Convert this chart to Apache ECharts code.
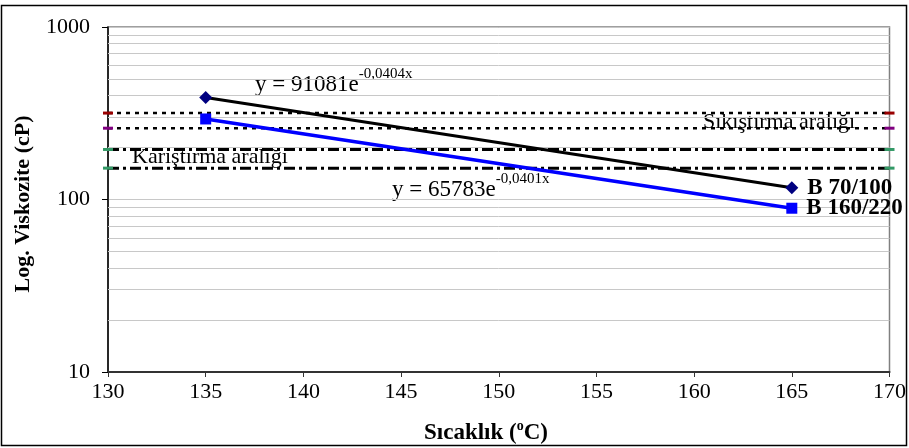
<!DOCTYPE html>
<html><head><meta charset="utf-8">
<script src="https://cdn.jsdelivr.net/npm/echarts@6/dist/echarts.min.js"></script>
<style>html,body{margin:0;padding:0;background:#fff}#c{width:909px;height:448px}</style>
</head><body><div id="c"></div>
<script>
// ---- data ----
const xTicks = [130, 135, 140, 145, 150, 155, 160, 165, 170];
const yTicks = [10, 100, 1000];
const temps = [135, 165];
const seriesNames = ['B 70/100', 'B 160/220'];
const b70100 = [390, 117];
const b160220 = [293, 89];
const compactionRange = [317, 259];   // Sıkıştırma aralığı (upper, lower)
const mixingRange = [195, 152];       // Karıştırma aralığı (upper, lower)
const rangeMarkColors = ['#990000', '#800080', '#339966', '#339966'];
const minorGrid = [20, 30, 40, 50, 60, 70, 80, 90, 200, 300, 400, 500, 600, 700, 800, 900];

const FONT = "'Liberation Serif','Times New Roman',serif";
const chart = echarts.init(document.getElementById('c'), null, {renderer: 'canvas'});

function endLabelData(xs, ys, name) {
  return xs.map((x, i) => {
    const d = {value: [x, ys[i]]};
    if (i === xs.length - 1) {
      d.label = {show: true, position: 'right', distance: 9, formatter: name,
        fontFamily: FONT, fontWeight: 'bold', fontSize: 23, color: '#000'};
    }
    return d;
  });
}

const xMin = xTicks[0], xMax = xTicks[xTicks.length - 1];
const rangeVals = compactionRange.concat(mixingRange);
const rangeSeries = rangeVals.map((v, i) => ({
  type: 'line',
  data: [[xMin, v], [xMax, v]],
  symbol: 'rect',
  symbolSize: [10, 3],
  clip: false,
  silent: true,
  z: 3,
  itemStyle: {color: rangeMarkColors[i]},
  lineStyle: i < 2
    ? {color: '#000', width: 2.5, type: [4, 5]}
    : {color: '#000', width: 3, type: [11, 4, 3, 4]}
}));

const option = {
  animation: false,
  backgroundColor: '#fff',
  grid: {left: 108, right: 17, top: 27, bottom: 76, show: true, borderColor: '#808080', borderWidth: 1.5},
  xAxis: {
    type: 'value', min: xMin, max: xMax, interval: 5,
    axisLine: {show: true, lineStyle: {color: '#333', width: 2}},
    axisTick: {show: true, inside: false, length: 5, lineStyle: {color: '#333', width: 1}},
    axisLabel: {fontFamily: FONT, fontSize: 22, color: '#000', margin: 9},
    splitLine: {show: false}
  },
  yAxis: {
    type: 'log', logBase: 10, min: yTicks[0], max: yTicks[yTicks.length - 1],
    axisLine: {show: true, lineStyle: {color: '#000', width: 1.5}},
    axisTick: {show: true, inside: false, length: 6, lineStyle: {color: '#000', width: 1}},
    axisLabel: {fontFamily: FONT, fontSize: 22, color: '#000', margin: 18, formatter: v => String(v)},
    splitLine: {show: true, lineStyle: {color: '#c8c8c8', width: 1}},
    minorTick: {show: false}
  },
  series: [
    {
      type: 'line', data: [], silent: true, z: 1,
      markLine: {silent: true, symbol: 'none', animation: false, label: {show: false},
        lineStyle: {color: '#c8c8c8', type: 'solid', width: 1},
        emphasis: {disabled: true},
        data: minorGrid.map(v => ({yAxis: v}))}
    },
    ...rangeSeries,
    {
      name: seriesNames[0], type: 'line', z: 5,
      data: endLabelData(temps, b70100, seriesNames[0]),
      symbol: 'diamond', symbolSize: 13,
      itemStyle: {color: '#000080'},
      lineStyle: {color: '#000', width: 3}
    },
    {
      name: seriesNames[1], type: 'line', z: 5,
      data: endLabelData(temps, b160220, seriesNames[1]),
      symbol: 'rect', symbolSize: 11,
      itemStyle: {color: '#0000ff'},
      lineStyle: {color: '#0000ff', width: 3.5}
    }
  ],
  graphic: [
    {type: 'rect', shape: {x: 1.5, y: 5.5, width: 905, height: 440}, style: {fill: 'none', stroke: '#000', lineWidth: 1.5}, z: 10, silent: true},
    {type: 'text', x: 23, y: 204, rotation: Math.PI / 2,
      style: {text: 'Log. Viskozite (cP)', font: "bold 22px 'Liberation Serif', serif", fill: '#000', align: 'center', verticalAlign: 'middle'}},
    {type: 'text', x: 486, y: 433,
      style: {text: '{t|Sıcaklık (}{s|o}{t|C)}', align: 'center', verticalAlign: 'middle',
        rich: {t: {fontFamily: FONT, fontWeight: 'bold', fontSize: 23, lineHeight: 28, fill: '#000'},
               s: {fontFamily: FONT, fontWeight: 'bold', fontSize: 14, lineHeight: 14, verticalAlign: 'top', fill: '#000'}}}},
    {type: 'text', x: 255, y: 85,
      style: {text: '{m|y = 91081e}{s|-0,0404x}', align: 'left', verticalAlign: 'middle',
        rich: {m: {fontFamily: FONT, fontSize: 23, lineHeight: 36, fill: '#000'},
               s: {fontFamily: FONT, fontSize: 15, lineHeight: 15, verticalAlign: 'top', fill: '#000'}}}},
    {type: 'text', x: 392, y: 190,
      style: {text: '{m|y = 65783e}{s|-0,0401x}', align: 'left', verticalAlign: 'middle',
        rich: {m: {fontFamily: FONT, fontSize: 23, lineHeight: 36, fill: '#000'},
               s: {fontFamily: FONT, fontSize: 15, lineHeight: 15, verticalAlign: 'top', fill: '#000'}}}},
    {type: 'text', x: 703, y: 122, z: 4,
      style: {text: 'Sıkıştırma aralığı', font: "22px 'Liberation Serif', serif", fill: '#000', align: 'left', verticalAlign: 'middle'}},
    {type: 'text', x: 132, y: 157, z: 4,
      style: {text: 'Karıştırma aralığı', font: "22px 'Liberation Serif', serif", fill: '#000', align: 'left', verticalAlign: 'middle'}}
  ]
};
chart.setOption(option);
</script>
</body></html>
